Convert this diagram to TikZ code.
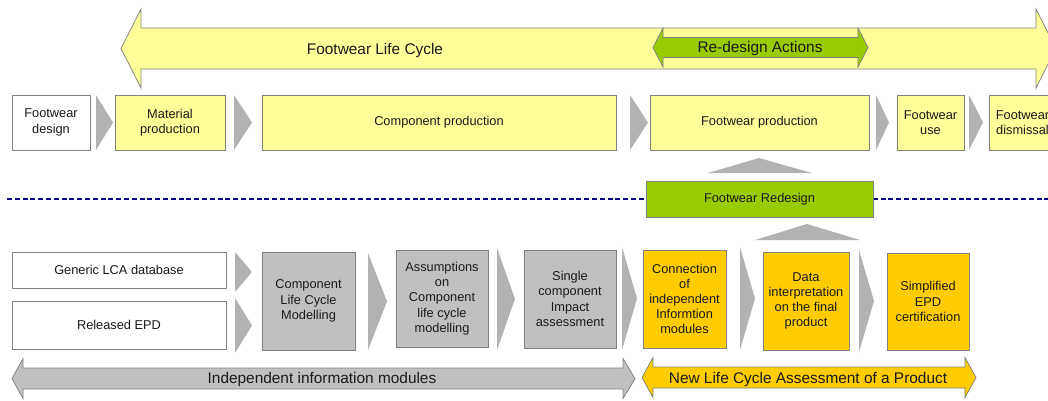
\documentclass[tikz,border=0pt]{standalone}
\usepackage{fontspec}
\setmainfont{Liberation Sans}
\definecolor{lyel}{HTML}{FFFF99}
\definecolor{grn}{HTML}{99CC00}
\definecolor{orng}{HTML}{FFCC00}
\definecolor{boxgray}{HTML}{C0C0C0}
\definecolor{chevgray}{HTML}{B2B2B2}
\definecolor{bordgray}{HTML}{808080}
\definecolor{navyc}{HTML}{000080}
\definecolor{txtc}{HTML}{1A1A1A}
\newcommand\boxfnt{\fontsize{12.8}{15.2}\selectfont}
\newcommand\bigfnt{\fontsize{15.4}{18}\selectfont}
\begin{document}
\begin{tikzpicture}[x=1pt,y=-1pt,
  box/.style={draw=bordgray, line width=0.75pt, inner sep=0pt, align=center, font=\boxfnt, text=txtc},
  ybox/.style={box, fill=lyel},
  wbox/.style={box, fill=white},
  gbox/.style={box, fill=boxgray},
  obox/.style={box, fill=orng},
  grbox/.style={box, fill=grn},
  chev/.style={fill=chevgray},
  bigarrow/.style={draw=bordgray, line width=0.75pt},
  bigtext/.style={font=\bigfnt, text=txtc, anchor=base, inner sep=0pt},
  dotline/.style={draw=navyc, line width=2.5pt, dash pattern=on 5pt off 2.8pt}]
\useasboundingbox (0,0) rectangle (1048,400);
\clip (0,0) rectangle (1048,400);

% ---- big arrows (top)
\path[bigarrow, fill=lyel] (121,48.5) -- (141,9) -- (141,28) -- (1036,28) -- (1036,9) -- (1056,48.5)
  -- (1036,88) -- (1036,69) -- (141,69) -- (141,88) -- cycle;
\node[bigtext] (lifecycle) at (375,54) {Footwear Life Cycle};
\path[bigarrow, fill=grn] (653,47.5) -- (663,28) -- (663,37.5) -- (858,37.5) -- (858,28) -- (868,47.5)
  -- (858,67) -- (858,57.5) -- (663,57.5) -- (663,67) -- cycle;
\node[bigtext] (redesignact) at (760,52.5) {Re-design Actions};

% ---- top row
\node[wbox, minimum width=78pt, minimum height=55pt] (fdesign) at (51,122.5) {Footwear\\design};
\node[ybox, minimum width=110pt, minimum height=55pt] (matprod) at (170,122.5) {Material\\production};
\node[ybox, minimum width=354pt, minimum height=55pt] (compprod) at (439,122.5) {Component production};
\node[ybox, minimum width=219pt, minimum height=55pt] (fprod) at (759.5,122.5) {Footwear production};
\node[ybox, minimum width=67pt, minimum height=55pt] (fuse) at (930.5,122.5) {Footwear\\use};
\node[ybox, minimum width=67pt, minimum height=55pt] (fdism) at (1022.5,122.5) {Footwear\\dismissal};
\fill[chev] (96,95) -- (113,122.5) -- (96,150) -- cycle;
\fill[chev] (234,95) -- (252,122.5) -- (234,150) -- cycle;
\fill[chev] (630,95) -- (648,122.5) -- (630,150) -- cycle;
\fill[chev] (876,95) -- (889,122.5) -- (876,150) -- cycle;
\fill[chev] (969,95) -- (983,122.5) -- (969,150) -- cycle;

% ---- up arrows and redesign
\fill[chev] (708,173) -- (759,158) -- (812,173) -- cycle;
\coordinate (dl) at (7,199);
\coordinate (dr) at (1048,199);
\draw[dotline] (dl) -- (dr);
\node[grbox, minimum width=227pt, minimum height=36pt] (fredesign) at (759.5,199) {Footwear Redesign};
\fill[chev] (755,240) -- (807,224) -- (860,240) -- cycle;

% ---- bottom row
\node[wbox, minimum width=214pt, minimum height=36pt] (generic) at (119,270) {Generic LCA database};
\node[wbox, minimum width=214pt, minimum height=48pt] (released) at (119,325) {Released EPD};
\node[gbox, minimum width=93pt, minimum height=98pt] (clcm) at (308.5,301) {Component\\Life Cycle\\Modelling};
\node[gbox, minimum width=92pt, minimum height=97pt] (assum) at (442,298.5) {Assumptions\\on\\Component\\life cycle\\modelling};
\node[gbox, minimum width=92pt, minimum height=98pt] (single) at (570,299) {Single\\component\\Impact\\assessment};
\node[obox, minimum width=83pt, minimum height=98pt] (connect) at (684.5,299) {Connection\\of\\independent\\Informtion\\modules};
\node[obox, minimum width=86pt, minimum height=98pt] (datai) at (806,301) {Data\\interpretation\\on the final\\product};
\node[obox, minimum width=82pt, minimum height=97pt] (simpl) at (928,301.5) {Simplified\\EPD\\certification};
\fill[chev] (235,252) -- (252,272) -- (235,292) -- cycle;
\fill[chev] (235,298) -- (252,325.5) -- (235,353) -- cycle;
\fill[chev] (368,253) -- (387,301.5) -- (368,350) -- cycle;
\fill[chev] (497,248) -- (515,299) -- (497,350) -- cycle;
\fill[chev] (622,247) -- (637,298.5) -- (622,350) -- cycle;
\fill[chev] (740,247) -- (755,298.5) -- (740,350) -- cycle;
\fill[chev] (859,250) -- (874,301) -- (859,352) -- cycle;

% ---- big arrows (bottom)
\path[bigarrow, fill=boxgray] (12,378.5) -- (23,358.5) -- (23,368) -- (623,368) -- (623,358.5) -- (635,378.5)
  -- (623,398.5) -- (623,389) -- (23,389) -- (23,398.5) -- cycle;
\node[bigtext] (indep) at (322,383.5) {Independent information modules};
\path[bigarrow, fill=orng] (642,377.5) -- (653,357.5) -- (653,367) -- (965,367) -- (965,357.5) -- (976,377.5)
  -- (965,397.5) -- (965,388) -- (653,388) -- (653,397.5) -- cycle;
\node[bigtext] (newlca) at (808,383) {New Life Cycle Assessment of a Product};
\end{tikzpicture}
\end{document}
